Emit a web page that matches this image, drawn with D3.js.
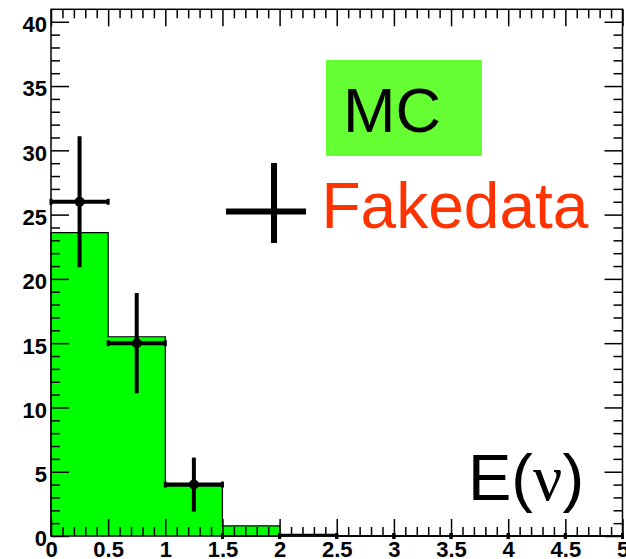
<!DOCTYPE html>
<html>
<head>
<meta charset="utf-8">
<script src="https://cdn.jsdelivr.net/npm/d3@7"></script>
<style>
html,body{margin:0;padding:0;background:#fff;}
svg{display:block;}
</style>
</head>
<body>
<svg id="chart" width="626" height="559"></svg>
<script>
// ---- data ----
const binEdges = [0, 0.5, 1, 1.5, 2, 2.5, 3, 3.5, 4, 4.5, 5];
const mcValues = [23.6, 15.5, 3.9, 0.78, 0.13, 0, 0, 0, 0, 0];
const dataValues = [26, 15, 4, 0, 0, 0, 0, 0, 0, 0];
const dataErrors = [5.1, 3.9, 2.1, 0, 0, 0, 0, 0, 0, 0];
const xMajorTicks = [0, 0.5, 1, 1.5, 2, 2.5, 3, 3.5, 4, 4.5, 5];
const xTickLabels = ["0", "0.5", "1", "1.5", "2", "2.5", "3", "3.5", "4", "4.5", "5"];
const yMajorTicks = [0, 5, 10, 15, 20, 25, 30, 35, 40];
const yTickLabels = ["0", "5", "10", "15", "20", "25", "30", "35", "40"];
const legendLabels = ["MC", "Fakedata"];
const axisTitle = "E";

// ---- layout ----
const L = 51, R = 622.5, T = 9.3, B = 536;
const svg = d3.select("#chart");
const x = d3.scaleLinear().domain([0, 5]).range([L, R]);
const y = d3.scaleLinear().domain([0, 40.97]).range([B, T]);

const xMinor = d3.range(0, 50).map(i => i / 10).filter(v => Math.abs(v * 2 - Math.round(v * 2)) > 1e-6);
const yMinor = d3.range(0, 41).filter(v => v % 5 !== 0);

// ---- histogram (MC) ----
const histPts = [[binEdges[0], 0]];
mcValues.forEach((v, i) => { histPts.push([binEdges[i], v]); histPts.push([binEdges[i + 1], v]); });
histPts.push([binEdges[binEdges.length - 1], 0]);
svg.append("path")
  .attr("d", d3.line().x(d => x(d[0])).y(d => y(d[1]))(histPts))
  .attr("fill", "#00ff00")
  .attr("stroke", "#000")
  .attr("stroke-width", 1.2);

// ---- axes ----
function styleAxis(g) {
  g.select(".domain").remove();
  g.selectAll(".tick line").attr("stroke", "#000").attr("stroke-width", 1.5);
}
const labelFont = "Liberation Sans, Arial, sans-serif";
// bottom
const gB = svg.append("g").attr("transform", `translate(0,${B})`)
  .call(d3.axisBottom(x).tickValues(xMajorTicks).tickSize(-17).tickPadding(4)
    .tickFormat((d, i) => xTickLabels[i]));
styleAxis(gB);
gB.selectAll("text").attr("font-family", labelFont)
  .attr("font-weight", "bold").attr("font-size", 22).attr("fill", "#000")
  .attr("y", 20.5).attr("dy", 0);
svg.append("g").attr("transform", `translate(0,${B})`)
  .call(d3.axisBottom(x).tickValues(xMinor).tickSize(-9).tickFormat(""))
  .call(styleAxis);
// top
svg.append("g").attr("transform", `translate(0,${T})`)
  .call(d3.axisTop(x).tickValues(xMajorTicks).tickSize(-17).tickFormat(""))
  .call(styleAxis);
svg.append("g").attr("transform", `translate(0,${T})`)
  .call(d3.axisTop(x).tickValues(xMinor).tickSize(-9).tickFormat(""))
  .call(styleAxis);
// left
const gL = svg.append("g").attr("transform", `translate(${L},0)`)
  .call(d3.axisLeft(y).tickValues(yMajorTicks).tickSize(-18).tickPadding(4)
    .tickFormat((d, i) => yTickLabels[i]));
styleAxis(gL);
gL.selectAll("text").attr("font-family", labelFont)
  .attr("font-weight", "bold").attr("font-size", 22).attr("fill", "#000")
  .attr("x", -4).attr("dy", "0.45em");
svg.append("g").attr("transform", `translate(${L},0)`)
  .call(d3.axisLeft(y).tickValues(yMinor).tickSize(-9).tickFormat(""))
  .call(styleAxis);
// right
svg.append("g").attr("transform", `translate(${R},0)`)
  .call(d3.axisRight(y).tickValues(yMajorTicks).tickSize(-18).tickFormat(""))
  .call(styleAxis);
svg.append("g").attr("transform", `translate(${R},0)`)
  .call(d3.axisRight(y).tickValues(yMinor).tickSize(-9).tickFormat(""))
  .call(styleAxis);

// frame
svg.append("rect").attr("x", L).attr("y", T).attr("width", R - L).attr("height", B - T)
  .attr("fill", "none").attr("stroke", "#000").attr("stroke-width", 1.5);

// ---- data points with error bars ----
const pts = dataValues.map((v, i) => ({ lo: binEdges[i], hi: binEdges[i + 1], c: (binEdges[i] + binEdges[i + 1]) / 2, v, e: dataErrors[i] }));
const gD = svg.append("g");
pts.forEach(p => {
  gD.append("line").attr("x1", x(p.lo)).attr("x2", x(p.hi)).attr("y1", y(p.v)).attr("y2", y(p.v))
    .attr("stroke", "#000").attr("stroke-width", p.v > 0 ? 4 : 1.5);
  [p.lo, p.hi].forEach(xe => {
    gD.append("line").attr("x1", x(xe)).attr("x2", x(xe)).attr("y1", y(p.v) - 3).attr("y2", y(p.v) + 3)
      .attr("stroke", "#000").attr("stroke-width", 3);
  });
  if (p.v > 0) {
    gD.append("line").attr("x1", x(p.c)).attr("x2", x(p.c)).attr("y1", y(p.v + p.e)).attr("y2", y(p.v - p.e))
      .attr("stroke", "#000").attr("stroke-width", 4);
    gD.append("circle").attr("cx", x(p.c)).attr("cy", y(p.v)).attr("r", 5).attr("fill", "#000");
  }
});

// ---- legend ----
svg.append("rect").attr("x", 326).attr("y", 60).attr("width", 156).attr("height", 96).attr("fill", "#66ff33");
svg.append("text").attr("x", 343).attr("y", 131.5).text(legendLabels[0])
  .attr("font-family", labelFont).attr("font-size", 63).attr("fill", "#000");
svg.append("line").attr("x1", 226).attr("x2", 306).attr("y1", 211.5).attr("y2", 211.5).attr("stroke", "#000").attr("stroke-width", 6);
svg.append("line").attr("x1", 274).attr("x2", 274).attr("y1", 163).attr("y2", 243).attr("stroke", "#000").attr("stroke-width", 6);
svg.append("text").attr("x", 321.5).attr("y", 228).text(legendLabels[1])
  .attr("font-family", labelFont).attr("font-size", 64).attr("fill", "#ff3300");

// ---- axis title ----
const t = svg.append("text").attr("x", 468).attr("y", 500)
  .attr("font-family", labelFont).attr("font-size", 65).attr("fill", "#000");
t.append("tspan").text(axisTitle + "(");
t.append("tspan").attr("font-family", "Liberation Serif, serif").text("ν");
t.append("tspan").text(")");
</script>
</body>
</html>
